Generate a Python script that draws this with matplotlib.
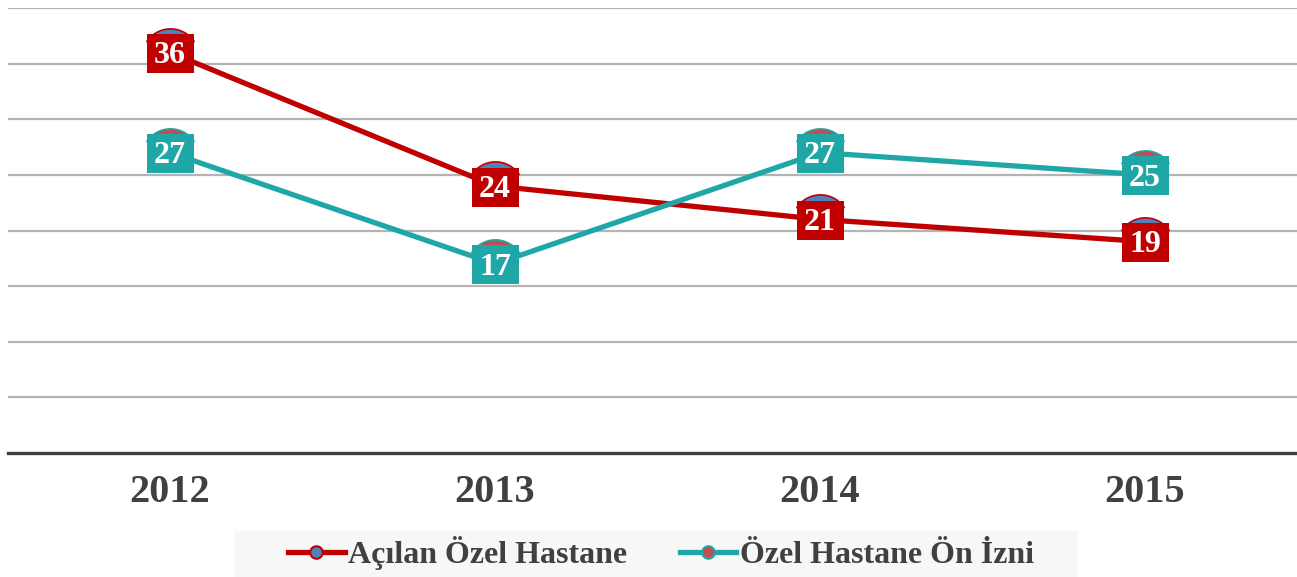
import matplotlib
matplotlib.use("Agg")
import numpy as np
import matplotlib.pyplot as plt
from matplotlib.lines import Line2D
from matplotlib.patches import Rectangle
from matplotlib.path import Path
from matplotlib.transforms import ScaledTranslation

years = ["2012", "2013", "2014", "2015"]
acilan = [36, 24, 21, 19]
on_izni = [27, 17, 27, 25]
series_names = ["Açılan Özel Hastane", "Özel Hastane Ön İzni"]

RED = "#C00000"
TEAL = "#1FA6A6"
BLUE_FACE = "#4F81BD"
RED_FACE = "#C0504D"
TXT = "#404040"

plt.rcParams['font.family'] = ['Liberation Serif', 'DejaVu Serif']

# dome-shaped marker (upper segment of a circle, peeking above the label box)
_R, _cy, _cut = 28.5, -3.9, 12.0
_a0 = np.arcsin((_cut - _cy) / _R)
_t = np.linspace(_a0, np.pi - _a0, 40)
_verts = np.column_stack([_R * np.cos(_t), _cy + _R * np.sin(_t)])
_verts = np.vstack([_verts, _verts[:1]])
dome = Path(_verts, [Path.MOVETO] + [Path.LINETO] * (len(_verts) - 2) + [Path.CLOSEPOLY])
dome_ms = 2 * np.abs(_verts).max() * 0.72  # points

fig = plt.figure(figsize=(12.97, 5.77), dpi=100)
W, H = 1297, 577
ax = fig.add_axes([7.5 / W, 1 - 453 / H, 1 - 7.5 / W, (453 - 8) / H])
x = list(range(len(years)))

ax.set_ylim(0, 40)
ax.set_xlim(-0.5, -0.5 + (W - 7.5) / 325)
for v in range(5, 41, 5):
    ax.axhline(v, color="#B4B4B4", lw=1.6, zorder=1)
for s in ["top", "right", "left"]:
    ax.spines[s].set_visible(False)
ax.spines["bottom"].set_color(TXT)
ax.spines["bottom"].set_linewidth(2.4)
ax.set_yticks([])
ax.set_xticks(x)
ax.set_xticklabels(years, fontsize=29, fontweight="bold", color=TXT)
ax.tick_params(axis="x", length=0, pad=15)

specs = [(acilan, RED, BLUE_FACE), (on_izni, TEAL, RED_FACE)]
for vals, col, face in specs:
    ax.plot(x, vals, color=col, lw=3.8, zorder=3, solid_capstyle="round")
    ax.plot(x, vals, ls="none", marker=dome, ms=dome_ms, mfc=face, mec=col, mew=1.2, zorder=4)
    for xi, v in zip(x, vals):
        tr = fig.dpi_scale_trans + ScaledTranslation(xi, v, ax.transData)
        ax.add_patch(Rectangle((-0.235, -0.205), 0.47, 0.39, transform=tr,
                               fc=col, ec="none", zorder=5))
        ax.annotate(f"{v}", xy=(xi, v), xytext=(0, -7.8), textcoords="offset points",
                    ha="center", va="baseline", fontsize=23, fontweight="bold",
                    color="white", zorder=6)

# legend background
fig.patches.append(Rectangle((235 / W, 0), (1078 - 235) / W, (577 - 531) / H,
                             transform=fig.transFigure, fc="#F7F7F7", ec="none", zorder=0))
handles = [Line2D([0], [0], color=RED, lw=3.8, marker="o", ms=9, mfc=BLUE_FACE, mec=RED, mew=1.5),
           Line2D([0], [0], color=TEAL, lw=3.8, marker="o", ms=9, mfc=RED_FACE, mec=TEAL, mew=1.5)]
leg = fig.legend(handles, series_names, loc="center", bbox_to_anchor=(661 / W, 1 - 553 / H),
                 ncol=2, frameon=False, handlelength=1.78, handletextpad=0.12,
                 columnspacing=1.63, borderpad=0.0, borderaxespad=0.0,
                 prop=dict(family=['Liberation Serif', 'DejaVu Serif'], size=23, weight="bold"))
for t in leg.get_texts():
    t.set_color(TXT)

fig.savefig("out.png", dpi=100)
